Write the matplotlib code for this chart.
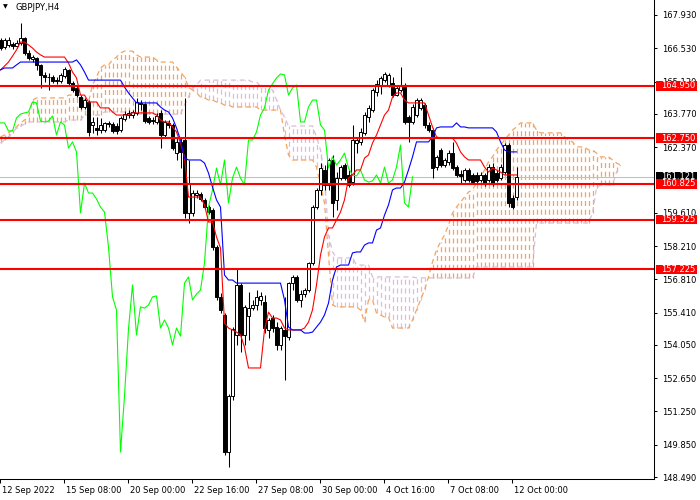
import numpy as np
import matplotlib
matplotlib.use("Agg")
import matplotlib.pyplot as plt
from matplotlib.patches import Rectangle
from matplotlib.transforms import ScaledTranslation

SYMBOL = "GBPJPY,H4"

# H4 candles, bar 0 = 12 Sep 16:00 ... bar 129 = 12 Oct 04:00
open_ = [
    166.88, 166.58, 166.67, 166.71, 166.62, 166.75, 166.96, 166.33, 166.08, 166.12,
    165.83, 165.41, 165.32, 165.32, 165.19, 165.15, 165.36, 165.62, 165.07, 164.86,
    164.48, 164.06, 164.27, 163.30, 163.18, 163.09, 163.09, 163.34, 163.34, 163.26,
    163.09, 163.55, 163.72, 163.72, 163.81, 164.18, 164.18, 163.60, 163.51, 163.43,
    163.81, 162.88, 163.39, 163.30, 162.12, 162.59, 162.67, 159.60, 159.60, 160.36,
    160.40, 160.15, 159.85, 159.73, 158.17, 156.07, 155.31, 149.54, 151.90, 154.47,
    156.57, 154.47, 155.27, 155.60, 155.73, 155.94, 155.86, 154.68, 155.18, 154.80,
    154.05, 154.68, 154.38, 156.65, 156.91, 155.94, 156.19, 156.36, 157.50, 159.85,
    160.57, 161.41, 160.78, 161.83, 160.15, 161.07, 161.62, 161.20, 160.90, 162.54,
    162.59, 162.97, 163.64, 163.93, 164.69, 164.94, 165.19, 164.98, 165.07, 164.56,
    164.77, 164.98, 163.64, 163.43, 163.72, 164.02, 164.14, 163.30, 163.09, 161.53,
    162.25, 161.62, 161.75, 162.12, 161.53, 161.24, 160.99, 161.41, 161.20, 161.20,
    160.99, 161.20, 160.99, 161.53, 161.28, 161.07, 161.32, 162.46, 160.23, 160.27,
]
high = [
    166.96, 166.96, 167.00, 166.79, 166.88, 167.59, 167.00, 166.46, 166.25, 166.16,
    165.87, 165.53, 165.49, 165.41, 165.32, 165.49, 165.74, 165.66, 165.15, 164.94,
    164.56, 164.44, 164.35, 163.64, 163.64, 163.60, 163.43, 163.47, 163.43, 163.39,
    163.68, 163.89, 163.93, 163.93, 164.44, 164.35, 164.23, 163.68, 163.64, 163.81,
    163.93, 163.51, 163.51, 163.39, 162.75, 162.80, 164.44, 161.83, 160.57, 160.57,
    160.48, 160.23, 159.94, 159.81, 158.25, 156.23, 155.39, 151.98, 154.80, 157.24,
    156.65, 155.73, 156.28, 155.94, 156.36, 156.28, 156.15, 155.18, 155.31, 155.01,
    154.85, 156.07, 156.70, 156.99, 156.99, 156.36, 156.44, 157.54, 159.94, 160.65,
    161.70, 161.62, 161.91, 162.04, 161.32, 161.62, 161.70, 161.41, 163.30, 162.80,
    163.18, 163.85, 164.14, 164.86, 165.19, 165.36, 165.53, 165.49, 165.32, 164.94,
    165.74, 165.07, 163.72, 164.18, 164.44, 164.44, 164.23, 163.43, 163.18, 162.04,
    162.33, 161.91, 162.25, 162.59, 161.62, 161.41, 161.49, 161.49, 161.28, 161.32,
    161.32, 161.28, 161.66, 161.70, 161.41, 161.66, 162.54, 162.54, 160.36, 161.53,
]
low = [
    166.46, 166.50, 166.58, 166.50, 166.54, 166.67, 166.25, 166.04, 165.95, 165.62,
    164.86, 165.11, 164.77, 165.07, 165.03, 165.07, 165.28, 164.98, 164.69, 164.48,
    163.97, 163.97, 162.84, 162.97, 162.88, 162.97, 163.01, 163.22, 162.97, 162.92,
    163.01, 163.47, 163.60, 163.60, 163.72, 163.93, 163.39, 163.34, 163.34, 163.34,
    162.33, 162.80, 163.18, 162.25, 161.83, 161.49, 159.39, 159.18, 159.47, 160.23,
    160.10, 159.77, 159.56, 158.04, 155.94, 155.39, 149.42, 148.91, 151.73, 154.05,
    153.75, 154.05, 154.26, 155.52, 155.52, 155.73, 154.55, 154.34, 154.59, 153.84,
    153.84, 152.57, 154.26, 156.36, 155.86, 155.65, 156.07, 156.28, 157.41, 159.77,
    160.36, 160.57, 160.57, 159.43, 159.73, 160.99, 160.99, 160.69, 160.78, 162.12,
    162.46, 162.88, 163.43, 163.85, 164.52, 164.61, 165.11, 164.90, 164.48, 164.52,
    164.69, 163.34, 162.59, 163.34, 163.64, 163.93, 163.18, 163.01, 161.07, 161.41,
    161.53, 161.53, 161.62, 161.41, 161.11, 160.86, 160.90, 160.90, 160.82, 160.86,
    160.90, 160.74, 160.90, 160.74, 160.90, 160.99, 161.24, 159.85, 159.77, 160.15,
]
close = [
    166.54, 166.88, 166.88, 166.62, 166.75, 166.96, 166.33, 166.12, 166.16, 165.83,
    165.41, 165.32, 165.30, 165.15, 165.15, 165.41, 165.66, 165.07, 164.77, 164.56,
    164.06, 164.35, 163.01, 163.43, 163.09, 163.30, 163.39, 163.39, 163.05, 163.05,
    163.60, 163.76, 163.81, 163.85, 164.27, 164.23, 163.47, 163.43, 163.47, 163.68,
    162.88, 163.43, 163.30, 162.33, 162.59, 162.17, 159.60, 160.86, 160.44, 160.44,
    160.19, 159.85, 159.64, 158.17, 156.07, 155.52, 149.54, 151.90, 154.72, 156.57,
    154.47, 155.65, 155.60, 155.73, 156.07, 156.11, 154.76, 155.10, 154.76, 154.05,
    154.76, 154.42, 156.65, 156.91, 155.94, 156.19, 156.36, 157.50, 159.85, 160.57,
    161.49, 160.78, 161.83, 160.02, 161.07, 161.53, 161.07, 160.78, 162.67, 162.67,
    163.01, 163.72, 164.02, 164.77, 165.03, 165.28, 165.45, 165.41, 164.56, 164.86,
    164.98, 163.43, 163.43, 164.06, 164.35, 164.35, 163.30, 163.09, 161.49, 161.96,
    161.62, 161.83, 162.12, 161.49, 161.20, 161.16, 161.41, 160.99, 160.90, 160.95,
    161.20, 160.86, 161.53, 160.86, 160.99, 161.53, 162.46, 160.02, 159.85, 161.121,
]

# Ichimoku lines
tenkan = [
    165.62, 165.78, 165.95, 166.20, 166.46, 166.79, 166.79, 166.67, 166.54, 166.37,
    166.25, 166.16, 166.16, 166.16, 166.16, 166.16, 166.16, 165.91, 165.53, 165.28,
    164.56, 164.56, 164.27, 164.27, 164.27, 164.02, 164.02, 164.02, 163.85, 163.72,
    163.72, 163.72, 163.72, 163.81, 163.81, 163.81, 163.81, 163.81, 163.81, 163.72,
    163.51, 163.43, 163.43, 163.22, 163.01, 162.54, 161.96, 160.27, 160.27, 160.27,
    160.27, 159.94, 159.22, 159.22, 158.59, 158.13, 154.97, 154.76, 154.68, 154.59,
    154.47, 153.96, 153.08, 153.08, 153.08, 153.08, 154.68, 155.43, 155.18, 155.18,
    155.10, 154.76, 154.68, 154.68, 154.68, 154.68, 154.76, 155.01, 155.52, 156.57,
    157.83, 158.59, 158.97, 158.97, 159.30, 159.64, 160.15, 161.07, 161.20, 161.41,
    161.41, 161.91, 162.04, 162.54, 162.88, 163.30, 163.72, 163.93, 164.48, 164.65,
    164.65, 164.35, 164.23, 164.23, 164.23, 164.23, 164.23, 163.72, 163.22, 162.80,
    162.75, 162.75, 162.75, 162.75, 162.54, 162.17, 161.96, 161.83, 161.83, 161.83,
    161.83, 161.53, 161.32, 161.49, 161.41, 161.32, 161.20, 161.20, 161.20, 161.20,
]
kijun = [
    165.62, 165.70, 165.70, 165.70, 165.83, 165.95, 165.95, 165.95, 165.95, 165.95,
    165.95, 165.95, 165.95, 165.95, 165.95, 165.95, 165.95, 165.95, 165.95, 166.04,
    165.83, 165.53, 165.19, 165.19, 165.19, 165.19, 165.19, 165.19, 165.19, 165.19,
    165.19, 164.90, 164.65, 164.44, 164.23, 164.23, 164.23, 164.23, 164.23, 164.23,
    164.06, 163.93, 163.85, 163.60, 163.18, 162.67, 161.91, 161.83, 161.83, 161.83,
    161.83, 161.70, 161.28, 160.69, 160.15, 159.85, 156.99, 156.78, 156.78, 156.65,
    156.65, 156.65, 156.65, 156.65, 156.65, 156.65, 156.65, 156.65, 156.65, 156.65,
    156.65, 155.94, 154.80, 154.68, 154.68, 154.68, 154.55, 154.55, 154.59, 154.80,
    155.01, 155.31, 155.81, 156.78, 157.33, 157.41, 157.41, 157.41, 157.92, 157.96,
    157.96, 158.25, 158.34, 158.34, 158.88, 158.97, 159.51, 159.94, 160.57, 160.65,
    160.65, 160.90, 161.41, 161.96, 162.59, 162.59, 162.59, 162.59, 162.80, 163.18,
    163.22, 163.22, 163.22, 163.22, 163.39, 163.22, 163.22, 163.18, 163.18, 163.18,
    163.18, 163.18, 163.18, 163.18, 163.01, 162.59, 162.25, 162.17, 162.17, 162.17,
]
# cloud spans, already shifted forward 26 bars (bars 0..155)
span_a = [
    162.80, 162.88, 162.97, 163.09, 163.22, 163.39, 163.51, 163.64, 164.35, 164.44,
    164.44, 164.44, 164.44, 164.44, 164.44, 164.44, 164.44, 164.56, 164.56, 164.56,
    164.56, 164.35, 164.27, 164.98, 165.32, 165.70, 165.83, 165.83, 166.04, 166.16,
    166.33, 166.41, 166.41, 166.41, 166.25, 166.16, 166.16, 166.16, 166.16, 166.04,
    165.95, 165.95, 165.95, 165.95, 165.74, 165.53, 165.32, 164.90, 164.77, 164.65,
    164.48, 164.44, 164.35, 164.35, 164.27, 164.23, 164.14, 164.14, 164.06, 164.06,
    164.06, 164.06, 164.06, 164.06, 164.06, 163.93, 163.93, 163.93, 163.93, 163.93,
    163.93, 162.88, 162.04, 161.83, 161.83, 161.83, 161.83, 161.83, 161.83, 161.53,
    160.78, 160.02, 157.83, 155.73, 155.65, 155.65, 155.65, 155.65, 155.65, 155.65,
    155.52, 155.01, 155.94, 155.94, 155.39, 155.31, 155.22, 155.22, 154.76, 154.76,
    154.76, 154.76, 154.76, 155.10, 155.52, 155.94, 156.36, 156.91, 157.54, 158.04,
    158.38, 158.67, 159.09, 159.60, 159.85, 160.06, 160.27, 160.48, 160.57, 160.86,
    161.11, 161.41, 161.75, 161.96, 162.25, 162.46, 162.67, 162.88, 163.09, 163.22,
    163.39, 163.39, 163.39, 163.39, 163.09, 162.97, 162.97, 162.97, 162.97, 162.97,
    162.97, 162.80, 162.67, 162.59, 162.38, 162.38, 162.38, 162.25, 162.25, 162.12,
    161.96, 161.96, 161.96, 161.83, 161.70, 161.62,
]
span_b = [
    162.54, 162.67, 162.80, 162.97, 163.18, 163.26, 163.34, 163.43, 163.43, 163.43,
    163.43, 163.43, 163.43, 163.43, 163.43, 163.43, 163.43, 163.51, 163.51, 163.51,
    163.51, 163.72, 163.72, 163.72, 163.72, 163.72, 163.85, 163.85, 163.85, 163.85,
    163.85, 163.85, 163.85, 163.76, 163.76, 163.76, 163.76, 163.76, 163.76, 163.76,
    163.76, 163.76, 163.76, 163.76, 163.76, 163.76, 164.14, 164.48, 164.86, 164.98,
    165.19, 165.19, 165.19, 165.19, 165.19, 165.19, 165.19, 165.19, 165.19, 165.19,
    165.19, 165.19, 165.19, 165.11, 165.11, 164.94, 164.94, 164.94, 164.77, 164.35,
    163.93, 163.64, 163.26, 163.26, 163.26, 163.26, 163.26, 163.26, 163.26, 162.80,
    162.25, 161.11, 158.67, 157.96, 157.71, 157.71, 157.71, 157.71, 157.71, 157.41,
    157.41, 157.41, 157.41, 156.91, 156.91, 156.91, 156.91, 156.91, 156.91, 156.91,
    156.91, 156.91, 156.91, 156.91, 156.87, 156.87, 156.87, 156.87, 156.87, 156.87,
    156.87, 156.87, 156.87, 156.87, 156.87, 156.87, 156.87, 156.87, 156.87, 157.33,
    157.33, 157.33, 157.33, 157.33, 157.33, 157.33, 157.33, 157.33, 157.33, 157.33,
    157.33, 157.33, 157.33, 157.33, 159.18, 159.18, 159.18, 159.18, 159.18, 159.18,
    159.18, 159.18, 159.18, 159.18, 159.18, 159.18, 159.18, 159.18, 159.60, 160.65,
    160.78, 160.78, 160.78, 160.78, 161.32, 161.62,
]

LEVELS = [164.950, 162.750, 160.825, 159.325, 157.225]
BID = 161.121
PRICE_TICKS = [167.930, 166.530, 165.130, 163.770, 162.370, 159.610,
               158.210, 156.810, 155.410, 154.050, 152.650, 151.250, 149.850, 148.490]
DATE_BARS = [0, 16, 32, 48, 64, 80, 96, 112, 128]
DATE_LABELS = ["12 Sep 2022", "15 Sep 08:00", "20 Sep 00:00", "22 Sep 16:00",
               "27 Sep 08:00", "30 Sep 00:00", "4 Oct 16:00", "7 Oct 08:00",
               "12 Oct 00:00"]
CHIKOU_SHIFT = 26

SANDY = "#f4a460"
THISTLE = "#d8bfd8"
DASH = (0, (4, 3))


def plot_chart():
    plt.rcParams["font.family"] = ["DejaVu Sans"]
    fig = plt.figure(figsize=(7, 5), dpi=100)
    ax = fig.add_axes([0, 21 / 500, 654 / 700, 479 / 500])

    o, h, l, c = (np.array(v) for v in (open_, high, low, close))
    n = len(c)
    bars = np.arange(n)

    # kumo hatch: sandy where span A is on top, thistle where span B is
    a = np.array(span_a)
    b = np.array(span_b)
    cloud_bars = np.arange(len(a))
    a_top = a >= b
    for mask, col in ((a_top, SANDY), (~a_top, THISTLE)):
        ax.vlines(cloud_bars[mask], np.minimum(a, b)[mask], np.maximum(a, b)[mask],
                  color=col, linestyle=DASH, linewidth=0.9, zorder=1)
    ax.plot(cloud_bars, a, color=SANDY, lw=0.9, ls=DASH, zorder=1.5)
    ax.plot(cloud_bars, b, color=THISTLE, lw=0.9, ls=DASH, zorder=1.5)

    ax.axhline(BID, color="#c0c0c0", lw=0.75, zorder=2)

    # candles
    up = c >= o
    bottom = np.minimum(o, c)
    height = np.maximum(np.abs(c - o), 0.01)
    ax.vlines(bars, l, h, color="black", lw=0.75, zorder=3)
    ax.bar(bars, height, bottom=bottom, width=0.55,
           color=np.where(up, "white", "black").tolist(), edgecolor="black",
           linewidth=0.7, zorder=4)

    # chikou, tenkan, kijun
    ax.plot(bars[:n - CHIKOU_SHIFT], c[CHIKOU_SHIFT:], color="#00ff00", lw=0.8, zorder=5)
    ax.plot(bars, tenkan, color="red", lw=0.8, zorder=5)
    ax.plot(bars, kijun, color="blue", lw=0.8, zorder=5)

    for lvl in LEVELS:
        ax.axhline(lvl, color="red", lw=1.5, zorder=6)

    ax.set_xlim(-0.125, 163.375)
    ax.set_ylim(148.409, 168.56)

    for side in ("left", "top"):
        ax.spines[side].set_visible(False)
    for side in ("right", "bottom"):
        ax.spines[side].set_linewidth(0.75)

    ax.yaxis.tick_right()
    ax.set_yticks(PRICE_TICKS)
    ax.set_yticklabels([f"{t:.3f}" for t in PRICE_TICKS], fontsize=6)
    ax.tick_params(axis="y", direction="out", length=2.5, width=0.75, pad=3)

    ax.set_xticks([x - 0.125 for x in DATE_BARS])
    ax.set_xticklabels(DATE_LABELS, fontsize=6, ha="left")
    ax.tick_params(axis="x", direction="out", length=3, width=0.75, pad=2)
    shift = ScaledTranslation(2 / 100, 0, fig.dpi_scale_trans)
    for lab in ax.get_xticklabels():
        lab.set_transform(lab.get_transform() + shift)

    # price labels on the scale
    trans = ax.get_yaxis_transform()
    box_x, box_w, box_h = 656 / 654, 41 / 654, 0.40
    ax.add_patch(Rectangle((box_x, BID - box_h / 2), box_w, box_h, transform=trans,
                           fc="black", ec="none", clip_on=False, zorder=8))
    ax.text(661 / 654, BID, f"{BID:.3f}", transform=trans, color="white",
            fontsize=6, va="center", ha="left", clip_on=False, zorder=8.5)
    for lvl in LEVELS:
        ax.add_patch(Rectangle((box_x, lvl - box_h / 2), box_w, box_h, transform=trans,
                               fc="red", ec="none", clip_on=False, zorder=9))
        ax.text(661 / 654, lvl, f"{lvl:.3f}", transform=trans, color="white",
                fontsize=6, va="center", ha="left", clip_on=False, zorder=9.5)

    ax.text(3 / 654, 1 - 6.5 / 479, "\u25bc", transform=ax.transAxes, fontsize=4.5,
            va="center", ha="left", zorder=10)
    ax.text(15 / 654, 1 - 7.5 / 479, SYMBOL, transform=ax.transAxes, fontsize=6,
            va="center", ha="left", zorder=10)

    fig.savefig("out.png", dpi=100)


if __name__ == "__main__":
    plot_chart()
